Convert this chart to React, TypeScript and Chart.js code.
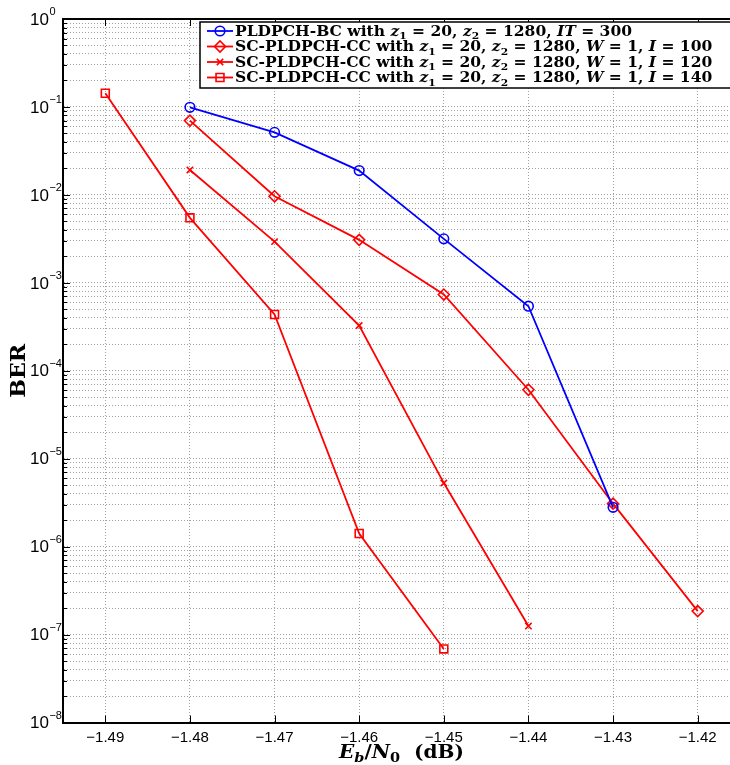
import React, { useEffect, useRef } from 'react';
import { Chart, registerables } from 'chart.js';
import { drawPoint } from 'chart.js/helpers';

Chart.register(...registerables);

// ---------- data ----------
const xTicks = [-1.49, -1.48, -1.47, -1.46, -1.45, -1.44, -1.43, -1.42];
const xMin = -1.495;
const xMax = -1.415;
const yMin = 1e-8;
const yMax = 1;
const yDecades = [-8, -7, -6, -5, -4, -3, -2, -1, 0];

const ebnoBC = [-1.48, -1.47, -1.46, -1.45, -1.44, -1.43];
const berBC = [0.099, 0.0514, 0.0189, 0.00316, 0.000542, 2.8e-6];

const ebnoI100 = [-1.48, -1.47, -1.46, -1.45, -1.44, -1.43, -1.42];
const berI100 = [0.0699, 0.00964, 0.00308, 0.000736, 6.08e-5, 3.08e-6, 1.85e-7];

const ebnoI120 = [-1.48, -1.47, -1.46, -1.45, -1.44];
const berI120 = [0.0192, 0.00294, 0.000327, 5.28e-6, 1.25e-7];

const ebnoI140 = [-1.49, -1.48, -1.47, -1.46, -1.45];
const berI140 = [0.143, 0.00548, 0.000436, 1.41e-6, 6.86e-8];

type Seg = { t: string; s: 'r' | 'i' | 'sub' | 'isub' };

const legendLabels: Seg[][] = [
  [
    { t: 'PLDPCH-BC with ', s: 'r' }, { t: 'z', s: 'i' }, { t: '1', s: 'sub' },
    { t: ' = 20, ', s: 'r' }, { t: 'z', s: 'i' }, { t: '2', s: 'sub' },
    { t: ' = 1280, ', s: 'r' }, { t: 'IT', s: 'i' }, { t: ' = 300', s: 'r' },
  ],
  [
    { t: 'SC-PLDPCH-CC with ', s: 'r' }, { t: 'z', s: 'i' }, { t: '1', s: 'sub' },
    { t: ' = 20, ', s: 'r' }, { t: 'z', s: 'i' }, { t: '2', s: 'sub' },
    { t: ' = 1280, ', s: 'r' }, { t: 'W', s: 'i' }, { t: ' = 1, ', s: 'r' },
    { t: 'I', s: 'i' }, { t: ' = 100', s: 'r' },
  ],
  [
    { t: 'SC-PLDPCH-CC with ', s: 'r' }, { t: 'z', s: 'i' }, { t: '1', s: 'sub' },
    { t: ' = 20, ', s: 'r' }, { t: 'z', s: 'i' }, { t: '2', s: 'sub' },
    { t: ' = 1280, ', s: 'r' }, { t: 'W', s: 'i' }, { t: ' = 1, ', s: 'r' },
    { t: 'I', s: 'i' }, { t: ' = 120', s: 'r' },
  ],
  [
    { t: 'SC-PLDPCH-CC with ', s: 'r' }, { t: 'z', s: 'i' }, { t: '1', s: 'sub' },
    { t: ' = 20, ', s: 'r' }, { t: 'z', s: 'i' }, { t: '2', s: 'sub' },
    { t: ' = 1280, ', s: 'r' }, { t: 'W', s: 'i' }, { t: ' = 1, ', s: 'r' },
    { t: 'I', s: 'i' }, { t: ' = 140', s: 'r' },
  ],
];

const xTitle: Seg[] = [
  { t: 'E', s: 'i' }, { t: 'b', s: 'isub' }, { t: '/', s: 'r' },
  { t: 'N', s: 'i' }, { t: '0', s: 'sub' }, { t: '  (dB)', s: 'r' },
];
const yTitle = 'BER';

const BLUE = '#0000ff';
const RED = '#ff0000';
const SERIF = "'DejaVu Serif', 'Liberation Serif', serif";
const SANS = "'Liberation Sans', Arial, Helvetica, sans-serif";

// ---------- helpers ----------
const yGridValues: { value: number; major: boolean }[] = [];
yDecades.forEach((k) => {
  if (k === 0) {
    yGridValues.push({ value: 1, major: true });
    return;
  }
  for (let m = 1; m <= 9; m++) {
    yGridValues.push({ value: m * Math.pow(10, k), major: m === 1 });
  }
});

const fmtX = (v: number) => {
  const s = v.toFixed(2);
  return s.startsWith('-') ? '\u2212' + s.slice(1) : s;
};

function segFont(s: Seg['s'], size: number) {
  if (s === 'i') return `italic bold ${size}px ${SERIF}`;
  if (s === 'isub') return `italic bold ${Math.round(size * 0.7)}px ${SERIF}`;
  if (s === 'sub') return `bold ${Math.round(size * 0.7)}px ${SERIF}`;
  return `bold ${size}px ${SERIF}`;
}

function segsWidth(ctx: CanvasRenderingContext2D, segs: Seg[], size: number) {
  let w = 0;
  segs.forEach((g) => {
    ctx.font = segFont(g.s, size);
    w += ctx.measureText(g.t).width;
  });
  return w;
}

function drawSegs(ctx: CanvasRenderingContext2D, segs: Seg[], x: number, y: number, size: number) {
  let cx = x;
  segs.forEach((g) => {
    ctx.font = segFont(g.s, size);
    const dy = g.s === 'sub' || g.s === 'isub' ? size * 0.25 : 0;
    ctx.fillText(g.t, cx, y + dy);
    cx += ctx.measureText(g.t).width;
  });
}

const pts = (xs: number[], ys: number[]) => xs.map((x, i) => ({ x, y: ys[i] }));

const CANVAS_W = 740;
const CANVAS_H = 765;

const decorPlugin = {
  id: 'decor',
  afterDraw(chart: any) {
    const { ctx, chartArea: a, scales } = chart;
    const xs = scales.x;
    const ys = scales.y;
    ctx.save();
    ctx.fillStyle = '#000';
    ctx.strokeStyle = '#000';

    // top and right border (box)
    ctx.lineWidth = 2;
    ctx.beginPath();
    ctx.moveTo(a.left, a.top);
    ctx.lineTo(a.right, a.top);
    ctx.lineTo(a.right, a.bottom);
    ctx.stroke();

    // inner tick marks
    ctx.lineWidth = 1;
    xTicks.forEach((v) => {
      const px = Math.round(xs.getPixelForValue(v)) + 0.5;
      ctx.beginPath();
      ctx.moveTo(px, a.bottom);
      ctx.lineTo(px, a.bottom - 7);
      ctx.moveTo(px, a.top);
      ctx.lineTo(px, a.top + 7);
      ctx.stroke();
    });
    yGridValues.forEach((g) => {
      const py = Math.round(ys.getPixelForValue(g.value)) + 0.5;
      const len = g.major ? 7 : 4;
      ctx.beginPath();
      ctx.moveTo(a.left, py);
      ctx.lineTo(a.left + len, py);
      ctx.stroke();
    });

    // y tick labels 10^k
    ctx.textBaseline = 'middle';
    ctx.textAlign = 'left';
    yDecades.forEach((k) => {
      const py = ys.getPixelForValue(Math.pow(10, k));
      ctx.font = `17px ${SANS}`;
      ctx.fillText('10', 30, py + 1);
      const w = ctx.measureText('10').width;
      ctx.font = `11px ${SANS}`;
      ctx.fillText(k === 0 ? '0' : '\u2212' + String(-k), 30 + w + 0.5, py - 7);
    });

    // y title
    ctx.save();
    ctx.font = `bold 20px ${SERIF}`;
    const bw = ctx.measureText(yTitle).width;
    ctx.translate(25, (a.top + a.bottom) / 2);
    ctx.rotate(-Math.PI / 2);
    ctx.scale(54 / bw, 1);
    ctx.textAlign = 'center';
    ctx.textBaseline = 'alphabetic';
    ctx.fillText(yTitle, 0, 0);
    ctx.restore();

    // x title
    ctx.save();
    ctx.textAlign = 'left';
    ctx.textBaseline = 'alphabetic';
    const xtSize = 18;
    const xtw = segsWidth(ctx, xTitle, xtSize);
    const xsx = 125 / xtw;
    ctx.translate((a.left + a.right) / 2 - 62.5, 757.5);
    ctx.scale(xsx, 1);
    drawSegs(ctx, xTitle, 0, 0, xtSize);
    ctx.restore();

    // legend
    const lx = 200;
    const ly = 22;
    const lw = a.right - 4 - lx;
    const lh = 66;
    ctx.fillStyle = '#fff';
    ctx.fillRect(lx, ly, lw, lh);
    ctx.strokeStyle = '#000';
    ctx.lineWidth = 1.5;
    ctx.strokeRect(lx, ly, lw, lh);

    const size = 14.5;
    const row1w = segsWidth(ctx, legendLabels[0], size);
    const sx = 397 / row1w;
    chart.data.datasets.forEach((ds: any, i: number) => {
      const base = 35.7 + i * 15.5;
      const cy = base - 4.7;
      ctx.strokeStyle = ds.borderColor;
      ctx.lineWidth = ds.borderWidth;
      ctx.beginPath();
      ctx.moveTo(207, cy);
      ctx.lineTo(233, cy);
      ctx.stroke();
      ctx.fillStyle = 'rgba(0,0,0,0)';
      ctx.lineWidth = ds.pointBorderWidth;
      drawPoint(ctx, {
        pointStyle: ds.pointStyle,
        radius: ds.pointRadius,
        borderWidth: ds.pointBorderWidth,
        rotation: 0,
      } as any, 220, cy);
      ctx.save();
      ctx.fillStyle = '#000';
      ctx.textAlign = 'left';
      ctx.textBaseline = 'alphabetic';
      ctx.translate(235, base);
      ctx.scale(sx, 1);
      drawSegs(ctx, legendLabels[i], 0, 0, size);
      ctx.restore();
    });

    ctx.restore();
  },
};

export default function App() {
  const ref = useRef<HTMLCanvasElement | null>(null);

  useEffect(() => {
    if (!ref.current) return;
    const common = {
      showLine: true,
      tension: 0,
      borderWidth: 1.8,
      pointBorderWidth: 1.6,
      pointBackgroundColor: 'rgba(0,0,0,0)',
      pointHoverRadius: 5,
    };
    const chart = new Chart(ref.current, {
      type: 'scatter',
      data: {
        datasets: [
          {
            ...common,
            label: 'BC',
            data: pts(ebnoBC, berBC),
            borderColor: BLUE,
            pointBorderColor: BLUE,
            pointStyle: 'circle',
            pointRadius: 4.8,
          },
          {
            ...common,
            label: 'I100',
            data: pts(ebnoI100, berI100),
            borderColor: RED,
            pointBorderColor: RED,
            pointStyle: 'rectRot',
            pointRadius: 5.5,
          },
          {
            ...common,
            label: 'I120',
            data: pts(ebnoI120, berI120),
            borderColor: RED,
            pointBorderColor: RED,
            pointStyle: 'crossRot',
            pointRadius: 4.5,
          },
          {
            ...common,
            label: 'I140',
            data: pts(ebnoI140, berI140),
            borderColor: RED,
            pointBorderColor: RED,
            pointStyle: 'rect',
            pointRadius: 5.6,
          },
        ],
      } as any,
      options: {
        responsive: false,
        animation: false,
        devicePixelRatio: 1,
        layout: { autoPadding: false, padding: { top: 19, left: 0, right: 0, bottom: 0 } },
        plugins: {
          legend: { display: false },
          tooltip: { enabled: false },
        },
        scales: {
          x: {
            type: 'linear',
            min: xMin,
            max: xMax,
            afterBuildTicks: (s: any) => {
              s.ticks = xTicks.map((v) => ({ value: v }));
            },
            afterFit: (s: any) => {
              s.height = 42.5;
              s.paddingLeft = 0;
              s.paddingRight = 0;
            },
            grid: { color: '#a0a0a0', lineWidth: 1, drawTicks: false },
            border: { display: true, color: '#000', width: 2, dash: [1, 2] },
            ticks: {
              padding: 6,
              color: '#000',
              maxRotation: 0,
              autoSkip: false,
              font: { family: SANS, size: 15 },
              callback: (v: any) => fmtX(Number(v)),
            },
          },
          y: {
            type: 'logarithmic',
            min: yMin,
            max: yMax,
            afterBuildTicks: (s: any) => {
              s.ticks = yGridValues.map((g) => ({ value: g.value, major: g.major }));
            },
            afterFit: (s: any) => {
              s.width = 63;
              s.paddingTop = 0;
              s.paddingBottom = 0;
            },
            grid: { color: '#a0a0a0', lineWidth: 1, drawTicks: false },
            border: { display: true, color: '#000', width: 2, dash: [1, 2] },
            ticks: { display: false },
          },
        },
      } as any,
      plugins: [decorPlugin],
    });
    return () => chart.destroy();
  }, []);

  return (
    <div
      style={{
        position: 'fixed',
        left: 0,
        top: 0,
        width: 730,
        height: 765,
        overflow: 'hidden',
        background: '#fff',
      }}
    >
      <canvas
        ref={ref}
        width={CANVAS_W}
        height={CANVAS_H}
        style={{ display: 'block', width: CANVAS_W, height: CANVAS_H }}
      />
    </div>
  );
}
